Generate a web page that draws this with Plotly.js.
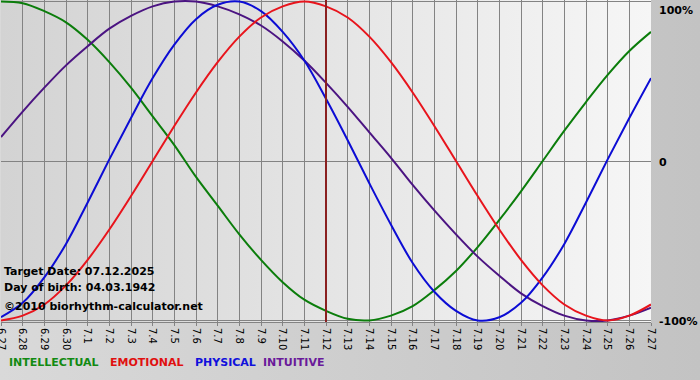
<!DOCTYPE html>
<html>
<head>
<meta charset="utf-8">
<script src="https://cdn.plot.ly/plotly-3.0.1.min.js"></script>
<style>
  html, body { margin: 0; padding: 0; }
  #chart {
    width: 700px; height: 380px;
    background:
      linear-gradient(to right, #d3d3d3, #f6f6f6) 1px 0 / 650px 322px no-repeat,
      linear-gradient(to right, #d9d9d9, #c3c3c3);
  }
</style>
</head>
<body>
<div id="chart"></div>
<script>
// Day labels (month.day)
const dayLabels = ['6.27','6.28','6.29','6.30','7.1','7.2','7.3','7.4','7.5','7.6','7.7','7.8','7.9','7.10',
  '7.11','7.12','7.13','7.14','7.15','7.16','7.17','7.18','7.19','7.20','7.21','7.22','7.23','7.24','7.25','7.26','7.27'];

// Series values in percent
const intellectual = [100,99,94,87,76,62,46,28,10,-10,-28,-46,-62,-76,-87,-94,-99,-100,-97,-91,-81,-69,-54,-37,-19,0,19,37,54,69,81];
const emotional    = [-100,-97,-90,-78,-62,-43,-22,0,22,43,62,78,90,97,100,97,90,78,62,43,22,0,-22,-43,-62,-78,-90,-97,-100,-97,-90];
const physical     = [-98,-89,-73,-52,-26,1,27,52,73,89,98,100,94,81,63,39,13,-14,-40,-64,-82,-94,-100,-98,-89,-73,-52,-26,1,27,52];
const intuitive    = [15,31,46,60,72,83,91,97,100,100,97,92,85,75,63,49,34,18,2,-15,-31,-46,-60,-72,-83,-91,-97,-100,-100,-97,-92];

const targetDay = '7.12';
const infoLines = ['Target Date: 07.12.2025', 'Day of birth: 04.03.1942', '\u00A92010 biorhythm-calculator.net'];
const legendNames = ['INTELLECTUAL', 'EMOTIONAL', 'PHYSICAL', 'INTUITIVE'];
const yLabels = ['100%', '0', '-100%'];

const FONT = 'DejaVu Sans, Verdana, sans-serif';
const colors = { intellectual: '#0b7d0b', emotional: '#e8141c', physical: '#0c0cd4', intuitive: '#4b1482' };
const legendColors = ['#128a12', '#e01010', '#1010dc', '#6a1a9a'];

function line(y, color, name) {
  return { x: dayLabels, y: y, type: 'scatter', mode: 'lines', name: name,
           line: { color: color, width: 2, shape: 'spline', smoothing: 1 }, hoverinfo: 'skip' };
}

const traces = [
  line(intellectual, colors.intellectual, 'INTELLECTUAL'),
  line(intuitive, colors.intuitive, 'INTUITIVE'),
  line(physical, colors.physical, 'PHYSICAL'),
  line(emotional, colors.emotional, 'EMOTIONAL')
];

const H = 322; // plot height in px
function py(p) { return (H - p) / H; }

const annotations = [];
// info text block
const infoY = [271, 287, 306];
infoLines.forEach((t, i) => annotations.push({
  text: '<b>' + t + '</b>', xref: 'paper', yref: 'paper', x: 0, y: py(infoY[i]),
  xanchor: 'left', yanchor: 'middle', xshift: 1, showarrow: false,
  font: { family: FONT, size: 11, color: '#000000' }
}));
// legend text
const legX = [7, 108, 193, 261];
legendNames.forEach((t, i) => annotations.push({
  text: '<b>' + t + '</b>', xref: 'paper', yref: 'paper', x: (legX[i] - 1) / 650, y: py(362),
  xanchor: 'left', yanchor: 'middle', showarrow: false,
  font: { family: FONT, size: 11, color: legendColors[i] }
}));
// right y labels
const yVals = [100, 0, -100];
const yAnch = ['top', 'middle', 'middle'];
yLabels.forEach((t, i) => annotations.push({
  text: '<b>' + t + '</b>', xref: 'paper', yref: 'y', x: 1, y: yVals[i],
  xanchor: 'left', yanchor: yAnch[i], xshift: 6, yshift: i === 0 ? 0 : -1, showarrow: false,
  font: { family: FONT, size: 11, color: '#000000' }
}));

const targetIdx = dayLabels.indexOf(targetDay);

const layout = {
  width: 700, height: 380,
  margin: { l: 1, r: 49, t: 0, b: 58, pad: 0 },
  paper_bgcolor: 'rgba(0,0,0,0)',
  plot_bgcolor: 'rgba(0,0,0,0)',
  showlegend: false,
  xaxis: {
    type: 'category', range: [0, 30], fixedrange: true,
    showgrid: true, gridcolor: '#838383', gridwidth: 1,
    showline: true, linecolor: '#838383', linewidth: 1,
    ticks: 'outside', ticklen: 3, tickcolor: '#838383',
    tickangle: 90, tickfont: { family: FONT, size: 10, color: '#000000' },
    zeroline: false, automargin: false
  },
  yaxis: {
    range: [-101, 101], fixedrange: true,
    tickvals: [-100, 0, 100], showticklabels: false, ticks: '',
    showgrid: true, gridcolor: '#838383', gridwidth: 1,
    zeroline: false, showline: false, automargin: false
  },
  shapes: [{
    type: 'line', xref: 'x', yref: 'paper', x0: targetIdx, x1: targetIdx, y0: 0, y1: 1,
    line: { color: '#8a2020', width: 2 }, layer: 'above'
  }],
  annotations: annotations
};

Plotly.newPlot('chart', traces, layout, { staticPlot: true, displayModeBar: false });
</script>
</body>
</html>
